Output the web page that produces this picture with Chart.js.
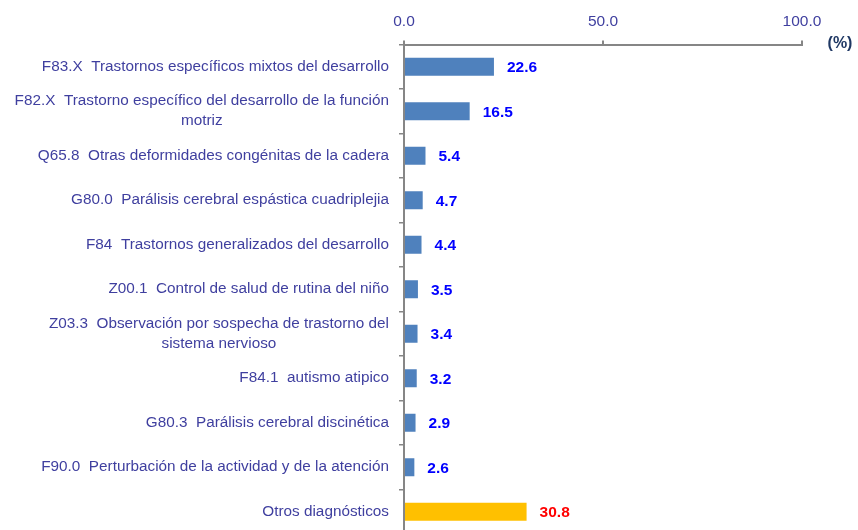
<!DOCTYPE html>
<html>
<head>
<meta charset="utf-8">
<script src="https://cdn.jsdelivr.net/npm/chart.js@4"></script>
<style>
  html, body { margin: 0; padding: 0; background: #fff; overflow: hidden; }
  #wrap { width: 858px; height: 530px; overflow: hidden; }
</style>
</head>
<body>
<div id="wrap"><canvas id="myChart" width="858" height="534"></canvas></div>
<script>
// categories (multi-line labels as arrays)
const categories = [
  ['F83.X  Trastornos específicos mixtos del desarrollo'],
  ['F82.X  Trastorno específico del desarrollo de la función', 'motriz'],
  ['Q65.8  Otras deformidades congénitas de la cadera'],
  ['G80.0  Parálisis cerebral espástica cuadriplejia'],
  ['F84  Trastornos generalizados del desarrollo'],
  ['Z00.1  Control de salud de rutina del niño'],
  ['Z03.3  Observación por sospecha de trastorno del', 'sistema nervioso'],
  ['F84.1  autismo atipico'],
  ['G80.3  Parálisis cerebral discinética'],
  ['F90.0  Perturbación de la actividad y de la atención'],
  ['Otros diagnósticos']
];
const values = [22.6, 16.5, 5.4, 4.7, 4.4, 3.5, 3.4, 3.2, 2.9, 2.6, 30.8];
const xTicks = [0, 50, 100];

const barColors = values.map((v, i) => i === values.length - 1 ? '#ffc000' : '#4f81bd');
const valueColors = values.map((v, i) => i === values.length - 1 ? '#ff0000' : '#0000ff');

const labelFont = '15.3px "Liberation Sans", Arial, sans-serif';
const labelColor = '#3f3f9f';

const labelPlugin = {
  id: 'customLabels',
  afterDraw(chart) {
    const ctx = chart.ctx;
    const yScale = chart.scales.y;
    ctx.save();
    // category labels, block right aligned, lines centered
    ctx.font = labelFont;
    ctx.fillStyle = labelColor;
    ctx.textBaseline = 'middle';
    ctx.textAlign = 'center';
    const right = 389;
    categories.forEach((lines, i) => {
      const cy = yScale.getPixelForValue(i);
      const widest = Math.max(...lines.map(l => ctx.measureText(l).width));
      const cx = right - widest / 2;
      const lh = 20;
      const y0 = cy - (lines.length - 1) * lh / 2;
      lines.forEach((l, j) => ctx.fillText(l, cx, y0 + j * lh));
    });
    // value labels
    const meta = chart.getDatasetMeta(0);
    ctx.font = 'bold 15.5px "Liberation Sans", Arial, sans-serif';
    ctx.textAlign = 'left';
    meta.data.forEach((bar, i) => {
      ctx.fillStyle = valueColors[i];
      ctx.fillText(values[i].toFixed(1), bar.x + 13, bar.y + 1);
    });
    // unit
    ctx.font = 'bold 16px "Liberation Sans", Arial, sans-serif';
    ctx.fillStyle = '#1f3864';
    ctx.textAlign = 'center';
    ctx.fillText('(%)', 840, 44);
    ctx.restore();
  }
};

const ctx = document.getElementById('myChart').getContext('2d');
new Chart(ctx, {
  type: 'bar',
  data: {
    labels: categories,
    datasets: [{
      data: values,
      backgroundColor: barColors,
      borderWidth: 0,
      barPercentage: 0.4,
      categoryPercentage: 1.0
    }]
  },
  options: {
    indexAxis: 'y',
    responsive: false,
    animation: false,
    layout: { padding: { left: 0, right: 56, top: 0, bottom: 0 } },
    plugins: {
      legend: { display: false },
      tooltip: { enabled: false }
    },
    scales: {
      x: {
        position: 'top',
        min: 0,
        max: 100,
        afterBuildTicks: (scale) => { scale.ticks = xTicks.map(v => ({ value: v })); },
        afterFit: (scale) => { scale.height = 44.5; },
        ticks: {
          padding: 9,
          color: labelColor,
          font: { family: '"Liberation Sans", Arial, sans-serif', size: 15.5 },
          callback: (v) => Number(v).toFixed(1),
          maxRotation: 0
        },
        grid: { drawOnChartArea: false, drawTicks: true, tickLength: 4, color: '#868686', lineWidth: 2 },
        border: { color: '#868686', width: 2 }
      },
      y: {
        afterFit: (scale) => { scale.width = 404; },
        ticks: { display: false },
        grid: { drawOnChartArea: false, drawTicks: true, tickLength: 5, color: '#868686', lineWidth: 1.5 },
        border: { color: '#868686', width: 2 }
      }
    }
  },
  plugins: [labelPlugin]
});
</script>
</body>
</html>
